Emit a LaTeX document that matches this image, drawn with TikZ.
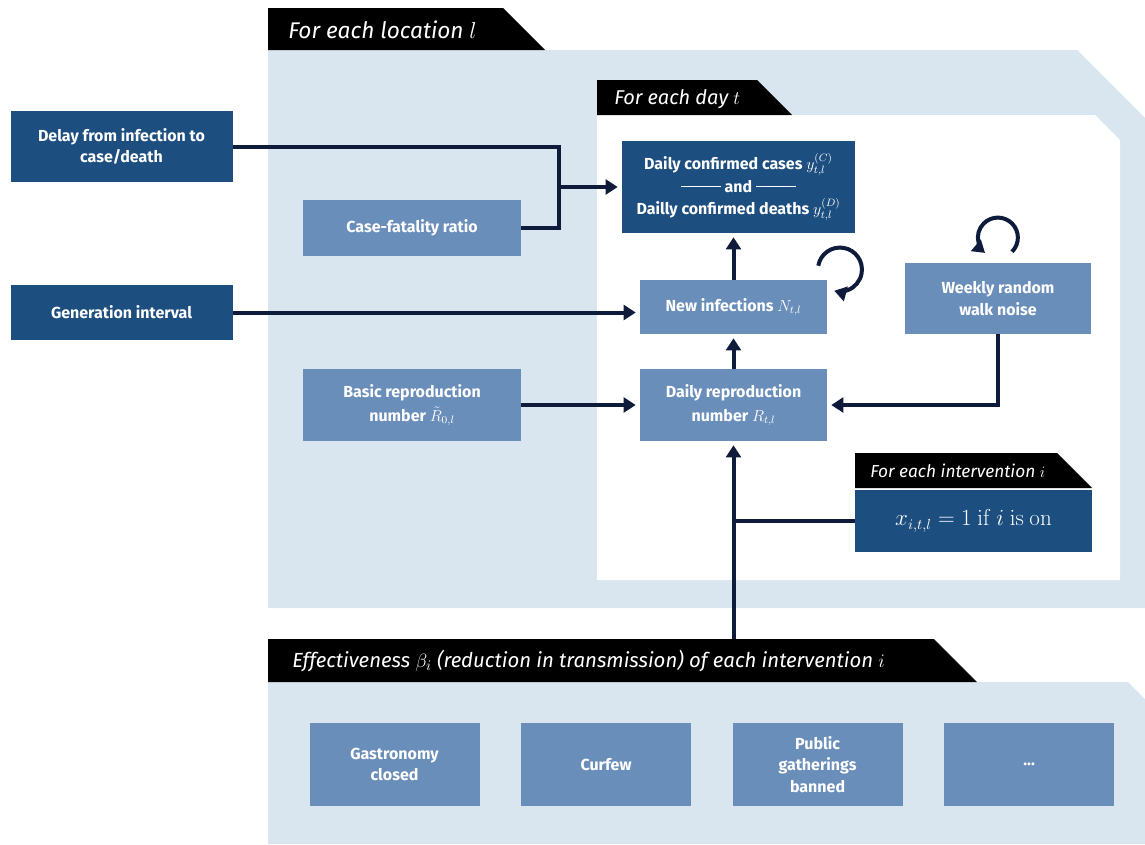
\documentclass[tikz,border=0pt]{standalone}
\usepackage[no-math]{fontspec}
\setmainfont{Fira Sans}
\usetikzlibrary{arrows.meta,positioning}
\definecolor{blu}{HTML}{1D4E80}
\definecolor{azzurro}{HTML}{6A8EBA}
\definecolor{celeste}{HTML}{D9E5EF}
\definecolor{inchiostro}{HTML}{0F1B3A}
\begin{document}
\begin{tikzpicture}[x=0.75pt, y=-0.75pt, node distance={30.75pt},
    font=\bfseries\fontsize{12}{16}\selectfont,
    box/.style = {fill=azzurro, text=white, align=center, inner sep=0pt},
    scuro/.style = {box, fill=blu},
    wh/.style 2 args = {minimum width=#1*0.75pt, minimum height=#2*0.75pt},
    tab/.style = {text=white, anchor=west, inner sep=0pt, font=\itshape\fontsize{17}{20}\selectfont},
    linea/.style = {draw=inchiostro, line width=3pt},
    punta/.style = {-{Triangle[length=9pt,width=11pt]}},
    freccia/.style = {linea, punta, shorten >=3pt}]
    \useasboundingbox (0,0) rectangle (1145,844);
    % Disegna i riquadri di sfondo
    \fill[celeste] (268,50) -- (1077,50) -- (1145,118) -- (1145,608) -- (268,608) -- cycle;
    \fill[black] (268,8) -- (503,8) -- (545,50) -- (268,50) -- cycle;
    \fill[white] (597,115) -- (1095,115) -- (1120,140) -- (1120,580) -- (597,580) -- cycle;
    \fill[black] (597,80) -- (757,80) -- (792,115) -- (597,115) -- cycle;
    \fill[black] (855,453) -- (1057,453) -- (1092,488) -- (855,488) -- cycle;
    \fill[celeste] (268,682) -- (1128,682) -- (1145,699) -- (1145,844) -- (268,844) -- cycle;
    \fill[black] (268,639) -- (934,639) -- (977,682) -- (268,682) -- cycle;

    \node[tab] (loc) at (288,30) {For each location $l$};
    \node[tab, font=\itshape\fontsize{15}{18}\selectfont] (giorno) at (614,99) {For each day $t$};
    \node[tab, font=\itshape\fontsize{13}{16}\selectfont] (interv) at (870,471) {For each intervention $i$};
    \node[tab, font=\itshape\fontsize{15.3}{18}\selectfont] (efficacia) at (292,661) {Effectiveness $\beta_i$ (reduction in transmission) of each intervention $i$};

    % Disegna i nodi
    \node[scuro, wh={222}{71}] (ritardo) at (121.5,146.5) {Delay from infection to\\case/death};
    \node[scuro, wh={222}{55}] (gen) at (121.5,312.5) {Generation interval};
    \node[box, wh={218}{56}] (cfr) at (412,228) {Case-fatality ratio};
    \node[box, wh={218}{72}] (r0) at (412,405) {Basic reproduction\\[2pt]number $\tilde{R}_{0,l}$};
    \node[scuro, wh={233}{92}, font=\bfseries\fontsize{12}{17}\selectfont] (casi) at (738.5,187)
        {Daily confirmed cases $y^{(C)}_{t,l}$\\
        \rule[0.3em]{30pt}{1pt}\ and \rule[0.3em]{30pt}{1pt}\\
        Dailly confirmed deaths $y^{(D)}_{t,l}$};
    \node[box, wh={187}{54}] (nuove) at (733.5,307) {New infections $N_{t,l}$};
    \node[box, wh={187}{72}] (rt) at (733.5,405) {Daily reproduction\\[2pt]number $R_{t,l}$};
    \node[box, wh={186}{71}] (rumore) at (998,298.5) {Weekly random\\walk noise};
    \node[scuro, wh={237}{62}, font=\fontsize{16}{19}\selectfont] (x) at (973.5,521)
        {$x_{i,t,l}=1\ \mathrm{if}\ i\ \mathrm{is\ on}$};

    \node[box, wh={170}{83}] (g1) at (394.5,764.5) {Gastronomy\\closed};
    \node[box, wh={170}{83}] (g2) [right = of g1] {Curfew};
    \node[box, wh={170}{83}] (g3) [right = of g2] {Public\\gatherings\\banned};
    \node[box, wh={170}{83}] (g4) [right = of g3] {...};

    % Disegna gli archi
    \coordinate (nodo) at (559,187);
    \coordinate (base) at (733.5,639);
    \draw[linea] (ritardo.east) -| (nodo) |- (cfr.east);
    \draw[freccia] (nodo) -- (casi);
    \draw[freccia] (gen.east) -- (gen.east -| nuove.west);
    \draw[freccia] (r0) -- (rt);
    \draw[freccia] (nuove.north) -- (nuove.north |- casi.south);
    \draw[freccia] (rt) -- (nuove);
    \draw[freccia] (rumore.south) |- (rt.east);
    \draw[freccia] (base) -- (rt.south);
    \draw[linea] (x.west) -- (x.west -| rt.south);
    \draw[linea, punta] (nuove.north east) ++(-9,-14)
        arc[start angle=170, end angle=-105, radius=16.5pt];
    \draw[linea, punta] (rumore.north) ++(14,-11)
        arc[start angle=-45, end angle=230, radius=15pt];
\end{tikzpicture}
\end{document}
